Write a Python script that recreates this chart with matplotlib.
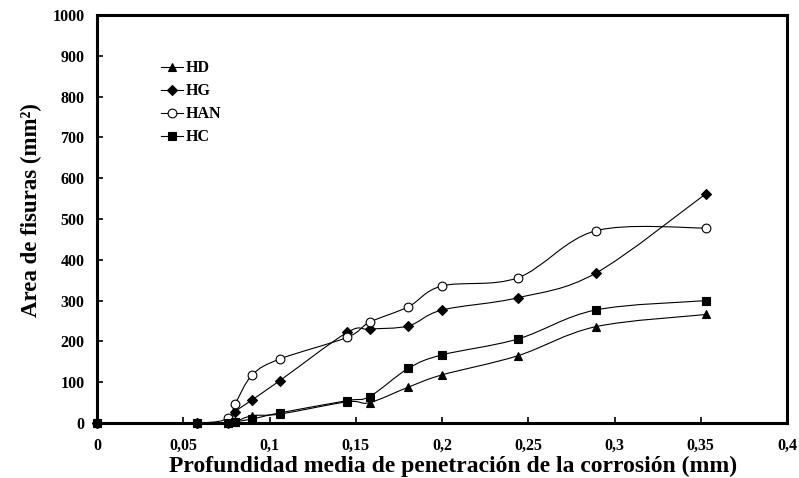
import numpy as np
import matplotlib
matplotlib.use("Agg")
import matplotlib.pyplot as plt
from matplotlib.path import Path
from matplotlib.patches import PathPatch
from matplotlib.lines import Line2D

x_vals = [0, 0.058, 0.076, 0.080, 0.090, 0.106, 0.145, 0.158, 0.1805, 0.200, 0.244, 0.289, 0.353]
hd = [0, 0, 0, 3, 18, 22, 52, 50, 88, 118, 165, 236, 266]
hg = [0, 0, 0, 27, 57, 104, 222, 230, 238, 277, 307, 367, 562]
han = [0, 0, 12, 46, 118, 157, 210, 247, 285, 336, 356, 471, 478]
hc = [0, 0, 0, 3, 10, 25, 55, 65, 134, 167, 206, 277, 300]

series = [
    ("HD", hd, "^", "black", 6.0),
    ("HG", hg, "D", "black", 4.6),
    ("HAN", han, "o", "white", 6.3),
    ("HC", hc, "s", "black", 6.3),
]

xticks = [0, 0.05, 0.1, 0.15, 0.2, 0.25, 0.3, 0.35, 0.4]
xtick_labels = ["0", "0,05", "0,1", "0,15", "0,2", "0,25", "0,3", "0,35", "0,4"]
yticks = list(range(0, 1001, 100))

plt.rcParams['font.family'] = ['Liberation Serif', 'DejaVu Serif']

fig = plt.figure(figsize=(7.99, 4.78), dpi=100)
ax = fig.add_axes([0.1214, 0.115, 0.8636, 0.8536])


def smooth_path(xs, ys):
    pts = np.column_stack([xs, ys]).astype(float)
    n = len(pts)
    verts = [pts[0]]
    codes = [Path.MOVETO]
    for i in range(n - 1):
        p0 = pts[i - 1] if i > 0 else pts[i]
        p1 = pts[i]
        p2 = pts[i + 1]
        p3 = pts[i + 2] if i + 2 < n else pts[i + 1]
        c1 = p1 + (p2 - p0) / 6.0
        c2 = p2 - (p3 - p1) / 6.0
        verts += [c1, c2, p2]
        codes += [Path.CURVE4] * 3
    return Path(verts, codes)


handles = []
for name, ys, mk, fc, ms in series:
    patch = PathPatch(smooth_path(x_vals, ys), facecolor='none', edgecolor='black', lw=0.8, zorder=2)
    ax.add_patch(patch)
    ax.plot(x_vals, ys, linestyle='none', marker=mk, markerfacecolor=fc,
            markeredgecolor='black', markeredgewidth=0.8, markersize=ms, zorder=3, clip_on=False)
    handles.append(Line2D([], [], color='black', lw=0.8, marker=mk, markerfacecolor=fc,
                          markeredgecolor='black', markeredgewidth=0.8, markersize=ms))

ax.set_xlim(0, 0.4)
ax.set_ylim(0, 1000)
ax.set_xticks(xticks)
ax.set_xticklabels(xtick_labels, fontsize=11.5, fontweight='bold')
ax.set_yticks(yticks)
ax.set_yticklabels([str(v) for v in yticks], fontsize=11.5, fontweight='bold')
ax.tick_params(direction='in', length=4, width=1.2)
ax.tick_params(axis='x', pad=11)
ax.tick_params(axis='y', pad=9)
for s in ax.spines.values():
    s.set_linewidth(2.2)

ax.set_xlabel("Profundidad media de penetración de la corrosión (mm)", fontsize=17,
              fontweight='bold')
ax.xaxis.set_label_coords(0.516, -0.106, transform=ax.transAxes)
ax.xaxis.label.set_va('center')
ax.set_ylabel("Area de fisuras (mm²)", fontsize=16.5, fontweight='bold')
ax.yaxis.set_label_coords(-0.0957, 0.522, transform=ax.transAxes)
ax.yaxis.label.set_va('center')

leg = ax.legend(handles, [s[0] for s in series], loc='upper left', bbox_to_anchor=(0.083, 0.905),
                frameon=False, prop={'weight': 'bold', 'size': 11.5}, handlelength=1.4,
                handletextpad=0.2, labelspacing=0.44, borderaxespad=0)

fig.savefig("out.png", dpi=100)
